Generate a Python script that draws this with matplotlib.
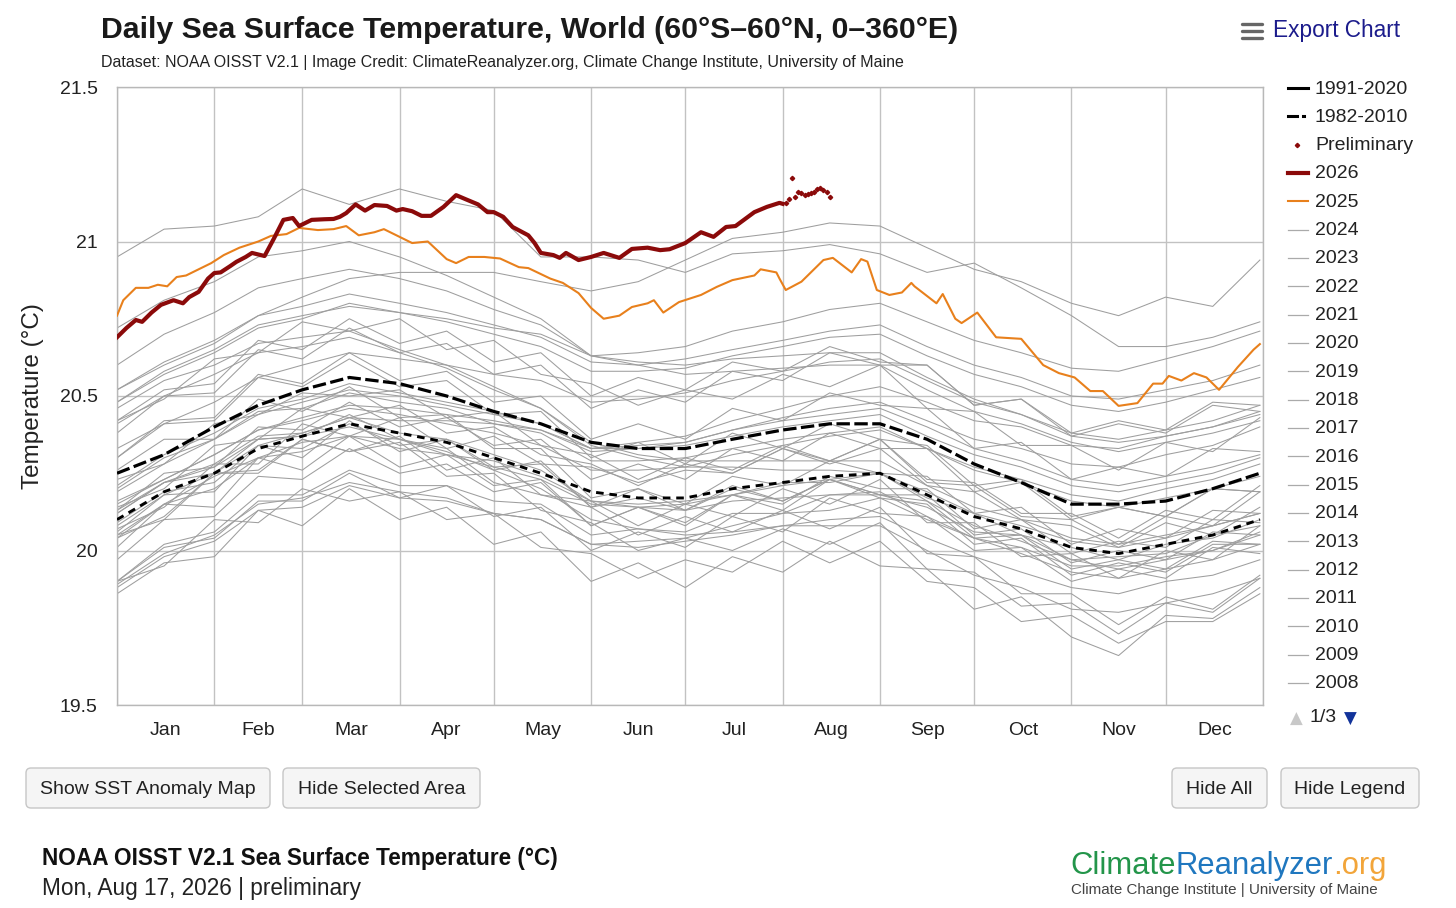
import matplotlib
matplotlib.use('Agg')
import matplotlib.pyplot as plt
from matplotlib.patches import FancyBboxPatch

plt.rcParams['font.family'] = ['Liberation Sans', 'DejaVu Sans']

W, H = 1456, 908

# ---------------- data ----------------
MONTHS = ['Jan', 'Feb', 'Mar', 'Apr', 'May', 'Jun', 'Jul', 'Aug', 'Sep', 'Oct', 'Nov', 'Dec']
MONTH_STARTS = [0, 31, 59, 90, 120, 151, 181, 212, 243, 273, 304, 334, 365]
GRID_DAYS = [0, 15, 31, 45, 59, 74, 90, 105, 120, 135, 151, 166, 181, 196, 212,
             227, 243, 258, 273, 288, 304, 319, 334, 349, 364]

CLIM_1991_2020 = [20.25, 20.31, 20.40, 20.47, 20.52, 20.56, 20.54, 20.50, 20.45, 20.41,
                  20.35, 20.33, 20.33, 20.36, 20.39, 20.41, 20.41, 20.36, 20.28, 20.22,
                  20.15, 20.15, 20.16, 20.20, 20.25]
CLIM_1982_2010 = [20.10, 20.19, 20.25, 20.33, 20.37, 20.41, 20.38, 20.35, 20.30, 20.25,
                  20.19, 20.17, 20.17, 20.20, 20.22, 20.24, 20.25, 20.18, 20.11, 20.07,
                  20.01, 19.99, 20.02, 20.05, 20.10]

Y2025_DAYS = [0, 2, 6, 10, 13, 16, 19, 22, 26, 30, 34, 39, 45, 49, 54, 58, 64, 69, 73, 77,
              82, 85, 90, 94, 99, 105, 108, 112, 117, 122, 128, 131, 138, 142, 147, 151,
              155, 160, 164, 169, 171, 174, 179, 186, 191, 196, 203, 205, 210, 211, 213,
              218, 225, 228, 234, 237, 239, 242, 246, 250, 253, 254, 261, 263, 267, 269,
              274, 280, 288, 295, 300, 305, 310, 314, 319, 325, 330, 333, 335, 339, 343,
              347, 351, 357, 362, 364]
Y2025_VALS = [20.76, 20.81, 20.85, 20.85, 20.86, 20.855, 20.885, 20.89, 20.91, 20.93,
              20.956, 20.98, 21.00, 21.018, 21.024, 21.044, 21.037, 21.04, 21.05, 21.02,
              21.03, 21.04, 21.015, 20.995, 21.0, 20.943, 20.93, 20.95, 20.95, 20.945,
              20.917, 20.914, 20.88, 20.866, 20.833, 20.785, 20.75, 20.76, 20.788, 20.80,
              20.81, 20.77, 20.804, 20.827, 20.853, 20.875, 20.89, 20.91, 20.90, 20.88,
              20.843, 20.87, 20.94, 20.947, 20.90, 20.943, 20.935, 20.843, 20.827, 20.835,
              20.866, 20.855, 20.80, 20.83, 20.75, 20.736, 20.77, 20.69, 20.685, 20.60,
              20.574, 20.56, 20.516, 20.516, 20.468, 20.477, 20.54, 20.54, 20.565, 20.55,
              20.574, 20.56, 20.52, 20.594, 20.65, 20.668]

Y2026_DAYS = [0, 3, 6, 8, 11, 14, 18, 21, 23, 26, 29, 31, 33, 36, 38, 41, 43, 47, 50, 53,
              56, 58, 60, 62, 66, 69, 71, 73, 76, 79, 82, 86, 89, 91, 94, 97, 100, 104,
              108, 111, 115, 118, 120, 123, 126, 131, 133, 135, 139, 141, 143, 147, 151,
              155, 160, 164, 169, 173, 176, 181, 186, 190, 194, 197, 203, 207, 211, 212]
Y2026_VALS = [20.69, 20.72, 20.746, 20.74, 20.77, 20.795, 20.81, 20.80, 20.82, 20.837,
              20.88, 20.898, 20.90, 20.92, 20.934, 20.95, 20.963, 20.953, 21.01, 21.07,
              21.076, 21.05, 21.06, 21.07, 21.072, 21.073, 21.08, 21.092, 21.12, 21.10,
              21.118, 21.115, 21.10, 21.105, 21.098, 21.083, 21.083, 21.112, 21.15, 21.137,
              21.12, 21.095, 21.095, 21.08, 21.047, 21.02, 20.995, 20.963, 20.956, 20.947,
              20.963, 20.94, 20.95, 20.963, 20.947, 20.976, 20.98, 20.972, 20.975, 20.995,
              21.03, 21.015, 21.047, 21.05, 21.095, 21.112, 21.125, 21.122]

PRELIM_DAYS = [213, 214, 215, 216, 217, 218, 219, 220, 221, 222, 223, 224, 225, 226, 227]
PRELIM_VALS = [21.124, 21.137, 21.205, 21.143, 21.161, 21.158, 21.15, 21.153, 21.156,
               21.161, 21.169, 21.174, 21.167, 21.161, 21.143]

# Earlier years (gray), values at GRID_DAYS
y1982 = [19.90, 20.02, 20.06, 20.18, 20.18, 20.26, 20.21, 20.21, 20.16, 20.15, 20.05, 20.07, 20.06,
         20.12, 20.12, 20.18, 20.18, 20.14, 20.06, 20.05, 19.97, 19.98, 19.99, 20.05, 20.08]
y1983 = [20.12, 20.22, 20.25, 20.36, 20.37, 20.44, 20.36, 20.33, 20.22, 20.18, 20.14, 20.05, 20.11,
         20.06, 20.13, 20.07, 20.14, 19.99, 19.98, 19.86, 19.86, 19.76, 19.85, 19.81, 19.92]
y1984 = [19.90, 19.95, 20.10, 20.09, 20.20, 20.16, 20.19, 20.10, 20.12, 20.01, 19.99, 19.91, 19.97,
         19.93, 20.03, 19.96, 20.03, 19.90, 19.88, 19.77, 19.79, 19.70, 19.77, 19.77, 19.86]
y1985 = [19.86, 19.96, 19.98, 20.13, 20.08, 20.20, 20.10, 20.14, 20.02, 20.06, 19.90, 19.96, 19.88,
         19.98, 19.93, 20.03, 19.95, 19.94, 19.81, 19.85, 19.72, 19.66, 19.79, 19.78, 19.88]
y1986 = [19.88, 19.98, 20.03, 20.13, 20.14, 20.21, 20.17, 20.16, 20.12, 20.10, 20.02, 20.03, 20.04,
         20.08, 20.12, 20.13, 20.17, 20.10, 20.04, 20.01, 19.95, 19.95, 19.98, 20.00, 20.06]
y1987 = [20.07, 20.14, 20.28, 20.28, 20.41, 20.37, 20.43, 20.33, 20.37, 20.28, 20.27, 20.22, 20.26,
         20.25, 20.33, 20.28, 20.33, 20.21, 20.19, 20.10, 20.08, 20.01, 20.09, 20.05, 20.14]
y1988 = [20.12, 20.22, 20.27, 20.36, 20.37, 20.40, 20.36, 20.32, 20.26, 20.20, 20.10, 20.07, 20.05,
         20.06, 20.08, 20.08, 20.08, 20.00, 19.92, 19.88, 19.81, 19.80, 19.83, 19.86, 19.91]
y1989 = [19.90, 20.01, 20.04, 20.16, 20.16, 20.25, 20.17, 20.21, 20.11, 20.14, 20.00, 20.06, 20.01,
         20.11, 20.06, 20.17, 20.12, 20.11, 20.00, 20.01, 19.90, 19.94, 19.91, 20.01, 19.99]
y1990 = [20.05, 20.15, 20.24, 20.30, 20.35, 20.37, 20.36, 20.31, 20.29, 20.24, 20.16, 20.15, 20.16,
         20.18, 20.22, 20.22, 20.25, 20.17, 20.12, 20.05, 20.01, 19.97, 20.02, 20.04, 20.10]
y1991 = [20.09, 20.19, 20.22, 20.34, 20.33, 20.41, 20.34, 20.36, 20.27, 20.28, 20.14, 20.17, 20.13,
         20.20, 20.16, 20.23, 20.18, 20.16, 20.04, 20.05, 19.94, 19.97, 19.94, 20.03, 20.02]
y1992 = [20.04, 20.11, 20.25, 20.26, 20.36, 20.32, 20.35, 20.24, 20.25, 20.13, 20.09, 20.00, 20.04,
         20.00, 20.07, 20.02, 20.09, 19.94, 19.93, 19.82, 19.83, 19.73, 19.83, 19.80, 19.91]
y1993 = [19.89, 19.99, 20.05, 20.15, 20.17, 20.22, 20.19, 20.17, 20.12, 20.10, 20.02, 20.01, 20.03,
         20.05, 20.08, 20.10, 20.11, 20.04, 19.98, 19.93, 19.88, 19.86, 19.90, 19.92, 19.97]
y1994 = [19.97, 20.10, 20.11, 20.24, 20.23, 20.33, 20.25, 20.28, 20.19, 20.22, 20.08, 20.14, 20.09,
         20.18, 20.15, 20.24, 20.20, 20.20, 20.07, 20.10, 19.99, 20.03, 20.01, 20.10, 20.09]
y1995 = [20.13, 20.22, 20.28, 20.37, 20.38, 20.43, 20.38, 20.36, 20.31, 20.26, 20.16, 20.14, 20.13,
         20.16, 20.17, 20.18, 20.19, 20.11, 20.04, 19.99, 19.93, 19.91, 19.94, 19.97, 20.02]
y1996 = [20.01, 20.15, 20.14, 20.30, 20.26, 20.37, 20.27, 20.31, 20.21, 20.23, 20.08, 20.14, 20.08,
         20.18, 20.13, 20.23, 20.18, 20.18, 20.05, 20.07, 19.96, 20.00, 19.97, 20.06, 20.05]
y1997 = [20.08, 20.18, 20.25, 20.34, 20.38, 20.43, 20.42, 20.42, 20.41, 20.39, 20.33, 20.35, 20.37,
         20.42, 20.46, 20.50, 20.53, 20.48, 20.42, 20.40, 20.34, 20.33, 20.37, 20.40, 20.45]
y1998 = [20.46, 20.55, 20.60, 20.67, 20.69, 20.71, 20.65, 20.60, 20.53, 20.46, 20.34, 20.30, 20.27,
         20.27, 20.26, 20.26, 20.25, 20.16, 20.08, 20.03, 19.97, 19.94, 19.97, 20.00, 20.05]
y1999 = [20.05, 20.10, 20.25, 20.25, 20.36, 20.32, 20.37, 20.26, 20.30, 20.18, 20.16, 20.08, 20.15,
         20.11, 20.20, 20.15, 20.23, 20.09, 20.09, 19.98, 19.99, 19.91, 20.00, 19.97, 20.08]
y2000 = [20.04, 20.15, 20.20, 20.30, 20.32, 20.37, 20.33, 20.31, 20.27, 20.23, 20.15, 20.14, 20.15,
         20.18, 20.21, 20.23, 20.25, 20.19, 20.12, 20.08, 20.03, 20.01, 20.04, 20.08, 20.12]
y2001 = [20.13, 20.25, 20.27, 20.40, 20.39, 20.48, 20.40, 20.43, 20.34, 20.36, 20.23, 20.28, 20.23,
         20.33, 20.29, 20.38, 20.33, 20.33, 20.19, 20.22, 20.10, 20.14, 20.11, 20.20, 20.19]
y2002 = [20.21, 20.31, 20.38, 20.46, 20.49, 20.54, 20.51, 20.48, 20.45, 20.41, 20.33, 20.33, 20.34,
         20.37, 20.40, 20.42, 20.44, 20.37, 20.31, 20.27, 20.21, 20.19, 20.22, 20.25, 20.30]
y2003 = [20.30, 20.41, 20.42, 20.56, 20.53, 20.62, 20.53, 20.55, 20.44, 20.45, 20.30, 20.35, 20.28,
         20.38, 20.33, 20.41, 20.36, 20.34, 20.21, 20.23, 20.11, 20.14, 20.11, 20.20, 20.19]
y2004 = [20.20, 20.30, 20.36, 20.45, 20.46, 20.51, 20.48, 20.46, 20.41, 20.38, 20.29, 20.29, 20.30,
         20.33, 20.36, 20.38, 20.40, 20.33, 20.26, 20.22, 20.16, 20.14, 20.17, 20.20, 20.24]
y2005 = [20.23, 20.28, 20.41, 20.44, 20.51, 20.50, 20.52, 20.43, 20.45, 20.34, 20.31, 20.23, 20.30,
         20.26, 20.34, 20.29, 20.36, 20.22, 20.21, 20.11, 20.10, 20.02, 20.11, 20.08, 20.19]
y2006 = [20.16, 20.23, 20.31, 20.39, 20.42, 20.46, 20.44, 20.41, 20.38, 20.34, 20.26, 20.26, 20.27,
         20.31, 20.34, 20.37, 20.39, 20.33, 20.27, 20.23, 20.18, 20.16, 20.20, 20.23, 20.28]
y2007 = [20.26, 20.36, 20.36, 20.49, 20.45, 20.53, 20.43, 20.44, 20.33, 20.33, 20.17, 20.20, 20.13,
         20.21, 20.16, 20.23, 20.17, 20.15, 20.02, 20.04, 19.92, 19.96, 19.93, 20.02, 20.02]
y2008 = [20.06, 20.18, 20.19, 20.34, 20.30, 20.42, 20.32, 20.36, 20.26, 20.29, 20.14, 20.20, 20.15,
         20.24, 20.21, 20.29, 20.25, 20.24, 20.12, 20.14, 20.02, 20.07, 20.04, 20.13, 20.12]
y2009 = [20.15, 20.23, 20.31, 20.39, 20.43, 20.47, 20.46, 20.44, 20.42, 20.39, 20.32, 20.33, 20.35,
         20.39, 20.43, 20.46, 20.48, 20.42, 20.36, 20.33, 20.28, 20.27, 20.31, 20.34, 20.40]
y2010 = [20.41, 20.50, 20.57, 20.64, 20.66, 20.69, 20.64, 20.59, 20.52, 20.46, 20.35, 20.31, 20.29,
         20.29, 20.29, 20.29, 20.29, 20.21, 20.14, 20.10, 20.04, 20.02, 20.05, 20.08, 20.12]
y2011 = [20.14, 20.20, 20.34, 20.36, 20.46, 20.43, 20.47, 20.38, 20.40, 20.31, 20.28, 20.21, 20.28,
         20.25, 20.33, 20.29, 20.36, 20.23, 20.22, 20.12, 20.12, 20.04, 20.13, 20.10, 20.21]
y2012 = [20.19, 20.28, 20.36, 20.44, 20.48, 20.52, 20.50, 20.47, 20.44, 20.41, 20.33, 20.34, 20.35,
         20.39, 20.42, 20.44, 20.46, 20.40, 20.33, 20.29, 20.23, 20.21, 20.24, 20.27, 20.31]
y2013 = [20.30, 20.42, 20.43, 20.57, 20.54, 20.64, 20.55, 20.58, 20.48, 20.50, 20.36, 20.41, 20.36,
         20.46, 20.42, 20.51, 20.47, 20.46, 20.33, 20.35, 20.23, 20.27, 20.24, 20.33, 20.32]
y2014 = [20.33, 20.41, 20.48, 20.56, 20.60, 20.64, 20.62, 20.60, 20.57, 20.55, 20.48, 20.49, 20.51,
         20.55, 20.58, 20.61, 20.62, 20.55, 20.48, 20.44, 20.38, 20.36, 20.39, 20.42, 20.47]
y2015 = [20.48, 20.57, 20.64, 20.72, 20.75, 20.80, 20.77, 20.75, 20.72, 20.70, 20.63, 20.64, 20.66,
         20.71, 20.74, 20.78, 20.80, 20.74, 20.68, 20.64, 20.59, 20.58, 20.62, 20.66, 20.71]
y2016 = [20.72, 20.81, 20.87, 20.95, 20.97, 21.00, 20.95, 20.89, 20.82, 20.75, 20.63, 20.60, 20.57,
         20.58, 20.59, 20.60, 20.60, 20.52, 20.45, 20.41, 20.35, 20.32, 20.35, 20.38, 20.42]
y2017 = [20.42, 20.49, 20.62, 20.64, 20.74, 20.71, 20.75, 20.65, 20.68, 20.57, 20.54, 20.47, 20.52,
         20.49, 20.57, 20.53, 20.60, 20.46, 20.45, 20.34, 20.34, 20.26, 20.35, 20.32, 20.43]
y2018 = [20.38, 20.50, 20.51, 20.65, 20.62, 20.72, 20.64, 20.67, 20.57, 20.60, 20.46, 20.52, 20.48,
         20.58, 20.55, 20.64, 20.60, 20.60, 20.47, 20.49, 20.38, 20.42, 20.39, 20.48, 20.47]
y2019 = [20.52, 20.61, 20.68, 20.76, 20.79, 20.83, 20.80, 20.77, 20.73, 20.69, 20.61, 20.60, 20.62,
         20.65, 20.68, 20.71, 20.73, 20.66, 20.60, 20.56, 20.50, 20.49, 20.52, 20.55, 20.60]
y2020 = [20.60, 20.70, 20.77, 20.85, 20.88, 20.91, 20.88, 20.84, 20.78, 20.73, 20.63, 20.61, 20.60,
         20.62, 20.63, 20.64, 20.64, 20.56, 20.49, 20.44, 20.37, 20.35, 20.37, 20.40, 20.44]
y2021 = [20.42, 20.52, 20.54, 20.68, 20.65, 20.75, 20.67, 20.71, 20.61, 20.64, 20.50, 20.56, 20.52,
         20.61, 20.58, 20.66, 20.61, 20.60, 20.47, 20.49, 20.37, 20.41, 20.38, 20.47, 20.45]
y2022 = [20.48, 20.58, 20.65, 20.73, 20.76, 20.79, 20.77, 20.74, 20.70, 20.66, 20.58, 20.58, 20.59,
         20.63, 20.66, 20.69, 20.70, 20.63, 20.57, 20.53, 20.47, 20.45, 20.48, 20.52, 20.56]
y2023 = [20.52, 20.60, 20.67, 20.76, 20.82, 20.88, 20.90, 20.90, 20.90, 20.87, 20.84, 20.87, 20.94,
         21.01, 21.03, 21.06, 21.05, 20.98, 20.91, 20.87, 20.80, 20.76, 20.82, 20.79, 20.94]
y2024 = [20.95, 21.04, 21.05, 21.08, 21.17, 21.12, 21.17, 21.13, 21.10, 20.95, 20.95, 20.94, 20.90,
         20.96, 20.97, 20.99, 20.96, 20.90, 20.93, 20.85, 20.76, 20.66, 20.66, 20.69, 20.74]

GRAY_YEARS = [y1982, y1983, y1984, y1985, y1986, y1987, y1988, y1989, y1990, y1991, y1992,
              y1993, y1994, y1995, y1996, y1997, y1998, y1999, y2000, y2001, y2002, y2003,
              y2004, y2005, y2006, y2007, y2008, y2009, y2010, y2011, y2012, y2013, y2014,
              y2015, y2016, y2017, y2018, y2019, y2020, y2021, y2022, y2023, y2024]

LEGEND_GRAY = ['2024', '2023', '2022', '2021', '2020', '2019', '2018', '2017', '2016',
               '2015', '2014', '2013', '2012', '2011', '2010', '2009', '2008']

YTICKS = [19.5, 20, 20.5, 21, 21.5]
YTICK_LABELS = ['19.5', '20', '20.5', '21', '21.5']

# ---------------- colours ----------------
C2026 = '#8b0a0a'
C2025 = '#e8801c'
CGRAY = '#9e9e9e'
CGRID = '#c2c2c2'

fig = plt.figure(figsize=(W / 100, H / 100), dpi=100)
fig.patch.set_facecolor('white')

# overlay in pixel coordinates for page furniture
ov = fig.add_axes([0, 0, 1, 1])
ov.set_xlim(0, W)
ov.set_ylim(H, 0)
ov.axis('off')

# main axes
L, R, T, B = 117, 1263, 87, 705
ax = fig.add_axes([L / W, 1 - B / H, (R - L) / W, (B - T) / H])
ax.set_xlim(0, 365)
ax.set_ylim(19.5, 21.5)

for vals in GRAY_YEARS:
    ax.plot(GRID_DAYS, vals, color=CGRAY, lw=0.75, zorder=2)

ax.plot(GRID_DAYS, CLIM_1982_2010, color='black', lw=2.1, ls=(0, (2.6, 2.0)), zorder=3)
ax.plot(GRID_DAYS, CLIM_1991_2020, color='black', lw=2.3, ls=(0, (4.2, 1.4)), zorder=3)
ax.plot(Y2025_DAYS, Y2025_VALS, color=C2025, lw=1.5, zorder=4)
ax.plot(Y2026_DAYS, Y2026_VALS, color=C2026, lw=3.0, zorder=5, solid_joinstyle='round')
ax.plot(PRELIM_DAYS, PRELIM_VALS, ls='none', marker='D', ms=2.2, color=C2026, zorder=6)

mids = [(MONTH_STARTS[i] + MONTH_STARTS[i + 1]) / 2 for i in range(12)]
ax.set_xticks(MONTH_STARTS)
ax.set_xticklabels([])
ax.set_xticks(mids, minor=True)
ax.set_xticklabels(MONTHS, minor=True)
ax.tick_params(axis='x', which='both', length=0)
ax.tick_params(axis='x', which='minor', pad=12, labelsize=14, labelcolor='#222222')
ax.set_yticks(YTICKS)
ax.set_yticklabels(YTICK_LABELS)
ax.tick_params(axis='y', length=0, pad=14, labelsize=14, labelcolor='#222222')
ax.grid(True, which='major', color=CGRID, lw=1.0)
ax.set_axisbelow(True)
for sp in ax.spines.values():
    sp.set_color('#b8b8b8')
    sp.set_linewidth(1.0)

# y label
ov.text(33, 396, 'Temperature (°C)', rotation=90, ha='center', va='center',
        fontsize=17.5, color='#222222')

# title / subtitle
ov.text(101, 30, 'Daily Sea Surface Temperature, World (60°S–60°N, 0–360°E)',
        ha='left', va='center', fontsize=21.8, fontweight='bold', color='#1a1a1a')
ov.text(101, 63, 'Dataset: NOAA OISST V2.1 | Image Credit: ClimateReanalyzer.org, '
        'Climate Change Institute, University of Maine',
        ha='left', va='center', fontsize=11.5, color='#222222')

# Export chart
for yy in (24, 31, 38):
    ov.plot([1242, 1262], [yy, yy], color='#666666', lw=2.4, solid_capstyle='round')
ov.text(1273, 31, 'Export Chart', ha='left', va='center', fontsize=16.3, color='#1c1c8c')

# legend
LEG_Y0, LEG_DY = 88, 28.33
LX0, LX1, LTX = 1288, 1308, 1315
entries = ['1991-2020', '1982-2010', 'Preliminary', '2026', '2025'] + LEGEND_GRAY
for i, lab in enumerate(entries):
    yy = LEG_Y0 + i * LEG_DY
    if lab == '1991-2020':
        ov.plot([LX0, LX1], [yy, yy], color='black', lw=2.2)
    elif lab == '1982-2010':
        ov.plot([LX0, LX0 + 9], [yy, yy], color='black', lw=2.2)
        ov.plot([LX0 + 14.5, LX0 + 16], [yy, yy], color='black', lw=2.2)
    elif lab == 'Preliminary':
        ov.plot([1297], [yy], ls='none', marker='D', ms=2.2, color=C2026)
    elif lab == '2026':
        ov.plot([LX0, LX1], [yy, yy], color=C2026, lw=3.0)
    elif lab == '2025':
        ov.plot([LX0, LX1], [yy, yy], color=C2025, lw=1.5)
    else:
        ov.plot([LX0, LX1], [yy, yy], color='#aaaaaa', lw=0.9)
    ov.text(LTX, yy + 1, lab, ha='left', va='center', fontsize=14, color='#222222')

ov.text(1296, 719, '▲', ha='center', va='center', fontsize=12, color='#c8c8c8',
        family=['DejaVu Sans'])
ov.text(1323, 717, '1/3', ha='center', va='center', fontsize=14, color='#222222')
ov.text(1350, 719, '▼', ha='center', va='center', fontsize=12, color='#12339a',
        family=['DejaVu Sans'])

# buttons
BUTTONS = [('Show SST Anomaly Map', 26, 270), ('Hide Selected Area', 283, 480),
           ('Hide All', 1172, 1267), ('Hide Legend', 1281, 1419)]
for lab, x0, x1 in BUTTONS:
    ov.add_patch(FancyBboxPatch((x0, 768), x1 - x0, 40,
                                boxstyle='round,pad=0,rounding_size=5',
                                facecolor='#f5f5f5', edgecolor='#c6c6c6', lw=1.0))
    ov.text((x0 + x1) / 2, 789, lab, ha='center', va='center', fontsize=14, color='#222222')

# footer
ov.text(42, 858, 'NOAA OISST V2.1 Sea Surface Temperature (°C)', ha='left', va='center',
        fontsize=16.3, fontweight='bold', color='#111111')
ov.text(42, 888, 'Mon, Aug 17, 2026 | preliminary', ha='left', va='center',
        fontsize=16.3, color='#222222')

# logo
t1 = ov.text(1070, 874, 'Climate', ha='left', va='baseline', fontsize=22.3, color='#23954a')
t2 = ov.annotate('Reanalyzer', xy=(1, 0), xycoords=t1, ha='left', va='bottom',
                 fontsize=22.3, color='#1f77bf')
ov.annotate('.org', xy=(1, 0), xycoords=t2, ha='left', va='bottom',
            fontsize=22.3, color='#f2a53a')
ov.text(1071, 890, 'Climate Change Institute | University of Maine', ha='left', va='center',
        fontsize=10.9, color='#444444')

fig.savefig('out.png', dpi=100, facecolor='white')
